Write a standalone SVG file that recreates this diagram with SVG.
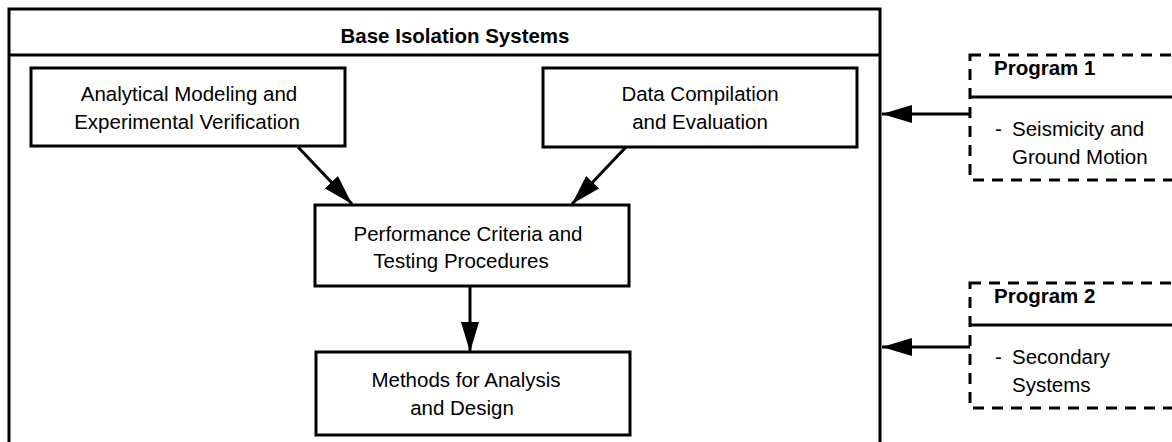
<svg xmlns="http://www.w3.org/2000/svg" width="1172" height="442" viewBox="0 0 1172 442">
<style>
.box{fill:none;stroke:#000;stroke-width:3}
.dash{fill:none;stroke:#000;stroke-width:3;stroke-dasharray:11 8}
.t{font-family:"Liberation Sans",Arial,sans-serif;font-size:20.5px;fill:#000}
.c{text-anchor:middle}
.b{font-weight:bold}
.conn{stroke:#000;stroke-width:3;fill:none}
</style>
<defs>
<marker id="ah" viewBox="0 0 30 18" refX="30" refY="9" markerWidth="30" markerHeight="18" markerUnits="userSpaceOnUse" orient="auto">
<path d="M0,0 L30,9 L0,18 Z" fill="#000"/>
</marker>
</defs>
<rect width="1172" height="442" fill="#fff"/>
<g id="base-isolation">
<rect class="box" x="9" y="9" width="871" height="450"/>
<line class="conn" x1="9" y1="55" x2="880" y2="55"/>
<text class="t c b" x="455" y="43" font-size="25.5">Base Isolation Systems</text>
</g>
<g id="analytical">
<rect class="box" x="31" y="68" width="314" height="78"/>
<text class="t c" x="189" y="101">Analytical Modeling and</text>
<text class="t c" x="187" y="129">Experimental Verification</text>
</g>
<g id="data">
<rect class="box" x="543" y="68" width="314" height="79"/>
<text class="t c" x="700" y="101">Data Compilation</text>
<text class="t c" x="700" y="129">and Evaluation</text>
</g>
<g id="performance">
<rect class="box" x="315" y="205" width="314" height="81"/>
<text class="t c" x="468" y="241">Performance Criteria and</text>
<text class="t c" x="461" y="268">Testing Procedures</text>
</g>
<g id="methods">
<rect class="box" x="316" y="352" width="314" height="83"/>
<text class="t c" x="466" y="387">Methods for Analysis</text>
<text class="t c" x="462" y="415">and Design</text>
</g>
<g id="program1">
<rect class="dash" x="970" y="55" width="220" height="125"/>
<line class="conn" x1="970" y1="97" x2="1172" y2="97"/>
<text class="t b" x="994" y="75" font-size="22.5">Program 1</text>
<text class="t" x="995" y="136">-</text>
<text class="t" x="1012" y="136">Seismicity and</text>
<text class="t" x="1012" y="164">Ground Motion</text>
</g>
<g id="program2">
<rect class="dash" x="970" y="283" width="220" height="125"/>
<line class="conn" x1="970" y1="325" x2="1172" y2="325"/>
<text class="t b" x="994" y="303" font-size="22.5">Program 2</text>
<text class="t" x="995" y="364">-</text>
<text class="t" x="1012" y="364">Secondary</text>
<text class="t" x="1012" y="392">Systems</text>
</g>
<g id="connectors">
<line class="conn" x1="298" y1="147" x2="352" y2="204" marker-end="url(#ah)"/>
<line class="conn" x1="626" y1="147" x2="572" y2="204" marker-end="url(#ah)"/>
<line class="conn" x1="470" y1="287" x2="470" y2="352" marker-end="url(#ah)"/>
<line class="conn" x1="970" y1="114" x2="882" y2="114" marker-end="url(#ah)"/>
<line class="conn" x1="970" y1="347" x2="882" y2="347" marker-end="url(#ah)"/>
</g>
</svg>
